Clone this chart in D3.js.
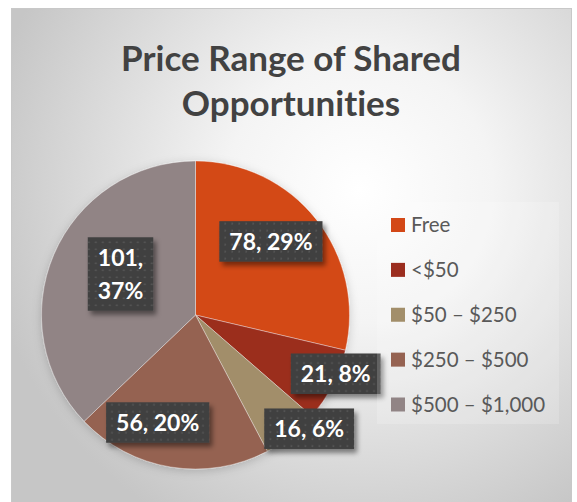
<!DOCTYPE html>
<html>
<head>
<meta charset="utf-8">
<script src="https://cdn.jsdelivr.net/npm/d3@7"></script>
<style>
  html, body { margin: 0; padding: 0; background: #fff; }
  svg { display: block; }
  text { font-variant-ligatures: none; font-feature-settings: "liga" 0; }
</style>
</head>
<body>
<div id="chart"></div>
<script>
// Data
var categories = ["Free", "<$50", "$50 – $250", "$250 – $500", "$500 – $1,000"];
var counts = [78, 21, 16, 56, 101];
var percents = ["29%", "8%", "6%", "20%", "37%"];
var colors = ["#D34817", "#9B2D1F", "#A28E6A", "#956251", "#918485"];

// Layout
var width = 577;
var height = 502;
var frame = {x: 11, y: 8, w: 560, h: 500};
var cx = 195.5, cy = 315, radius = 154;
var font = "Lato, 'Open Sans', sans-serif";

// Label placement relative to each slice's mid angle: [angle shift (deg), radius fraction, wrap]
var labelLayout = [[-5.9, 0.684, false], [-4.4, 0.987, false], [-6.6, 1.044, false],
                   [10.1, 0.74, false], [5.5, 0.555, true]];

var svg = d3.select("#chart")
  .append("svg")
    .attr("width", width)
    .attr("height", height);

var defs = svg.append("defs");

// Background gradient
var grad = defs.append("radialGradient")
    .attr("id", "bg")
    .attr("gradientUnits", "userSpaceOnUse")
    .attr("cx", 360).attr("cy", 190).attr("r", 380);
grad.append("stop").attr("offset", "0").attr("stop-color", "#ffffff");
grad.append("stop").attr("offset", "0.35").attr("stop-color", "#f4f4f4");
grad.append("stop").attr("offset", "1").attr("stop-color", "#c6c6c6");

// Drop shadows
defs.append("filter")
    .attr("id", "boxShadow")
    .attr("x", "-20%").attr("y", "-30%").attr("width", "150%").attr("height", "180%")
  .append("feDropShadow")
    .attr("dx", 3).attr("dy", 4).attr("stdDeviation", 2.5)
    .attr("flood-color", "#000").attr("flood-opacity", 0.45);

defs.append("filter")
    .attr("id", "pieShadow")
    .attr("x", "-20%").attr("y", "-20%").attr("width", "140%").attr("height", "140%")
  .append("feDropShadow")
    .attr("dx", 0).attr("dy", 2).attr("stdDeviation", 5)
    .attr("flood-color", "#000").attr("flood-opacity", 0.18);

// Dotted pattern for label boxes
var pat = defs.append("pattern")
    .attr("id", "dots")
    .attr("patternUnits", "userSpaceOnUse")
    .attr("width", 7).attr("height", 7);
pat.append("rect").attr("width", 7).attr("height", 7).attr("fill", "#404040");
pat.append("rect").attr("x", 2.5).attr("y", 2.5).attr("width", 1.6).attr("height", 1.6)
    .attr("fill", "#5a5a5a");

// Chart area
svg.append("rect")
    .attr("x", frame.x + 0.5).attr("y", frame.y + 0.5)
    .attr("width", frame.w).attr("height", frame.h)
    .attr("fill", "url(#bg)")
    .attr("stroke", "#c8c8c8");

// Title
var title = svg.append("text")
    .attr("x", frame.x + frame.w / 2)
    .attr("text-anchor", "middle")
    .style("font-family", font)
    .style("font-weight", "bold")
    .style("font-size", "35px")
    .style("fill", "#424242");
title.append("tspan").attr("x", frame.x + frame.w / 2).attr("y", 71).text("Price Range of Shared");
title.append("tspan").attr("x", frame.x + frame.w / 2).attr("y", 116).text("Opportunities");

// Pie
var data = categories.map(function(c, i) {
  return {name: c, value: counts[i], pct: percents[i], color: colors[i], layout: labelLayout[i]};
});

var pie = d3.pie().sort(null).value(function(d) { return d.value; });
var arc = d3.arc().innerRadius(0).outerRadius(radius);
var arcs = pie(data);

var g = svg.append("g").attr("transform", "translate(" + cx + "," + cy + ")");

g.append("g")
    .attr("filter", "url(#pieShadow)")
  .selectAll("path")
  .data(arcs)
  .enter().append("path")
    .attr("d", arc)
    .attr("fill", function(d) { return d.data.color; })
    .attr("stroke", "rgba(255,255,255,0.45)")
    .attr("stroke-width", 0.8);

// Data labels
var labels = g.selectAll(".label")
  .data(arcs)
  .enter().append("g")
    .attr("class", "label")
    .attr("transform", function(d) {
      var a = (d.startAngle + d.endAngle) / 2 + d.data.layout[0] * Math.PI / 180;
      var r = radius * d.data.layout[1];
      return "translate(" + (r * Math.sin(a)) + "," + (-r * Math.cos(a)) + ")";
    });

labels.each(function(d) {
  var sel = d3.select(this);
  var lines = d.data.layout[2] ? [d.data.value + ",", d.data.pct] : [d.data.value + ", " + d.data.pct];
  var lh = 33;
  var box = sel.append("rect").attr("fill", "url(#dots)").attr("filter", "url(#boxShadow)");
  var t = sel.append("text")
      .attr("text-anchor", "middle")
      .style("font-family", font)
      .style("font-weight", "bold")
      .style("font-size", "23px")
      .style("fill", "#ffffff");
  lines.forEach(function(l, i) {
    t.append("tspan")
        .attr("x", 0)
        .attr("y", (i - (lines.length - 1) / 2) * lh)
        .attr("dy", "0.35em")
        .text(l);
  });
  var bb = t.node().getBBox();
  var bw = bb.width + 20;
  var bh = lines.length === 1 ? 40.5 : 73.5;
  box.attr("x", -bw / 2).attr("y", -bh / 2).attr("width", bw).attr("height", bh);
});

// Legend
var legend = svg.append("g");
legend.append("rect")
    .attr("x", 377).attr("y", 202).attr("width", 182).attr("height", 222)
    .attr("fill", "#ffffff").attr("fill-opacity", 0.18);

var legendY = d3.scalePoint().domain(categories).range([225, 404.5]);

var item = legend.selectAll(".item")
  .data(data)
  .enter().append("g")
    .attr("class", "item")
    .attr("transform", function(d) { return "translate(391," + legendY(d.name) + ")"; });

item.append("rect")
    .attr("x", 0).attr("y", -7)
    .attr("width", 14).attr("height", 14)
    .attr("fill", function(d) { return d.color; });

item.append("text")
    .attr("x", 20)
    .attr("dy", "0.36em")
    .style("font-family", font)
    .style("font-size", "20.5px")
    .style("fill", "#595959")
    .text(function(d) { return d.name; });
</script>
</body>
</html>
